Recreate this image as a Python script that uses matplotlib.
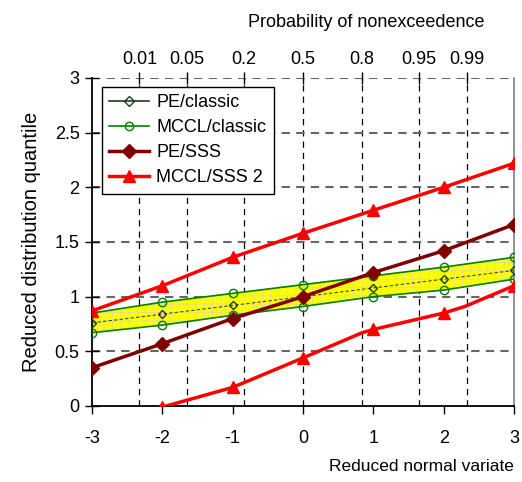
import matplotlib
matplotlib.use("Agg")
import matplotlib.pyplot as plt
from matplotlib.lines import Line2D
from statistics import NormalDist

plt.rcParams['font.family'] = ['Liberation Sans', 'DejaVu Sans']
plt.rcParams['hatch.linewidth'] = 0.6

# reduced normal variate
z = [-3, -2, -1, 0, 1, 2, 3]

# PE/classic estimate and MCCL/classic confidence band
pe_classic = [0.76, 0.84, 0.92, 1.00, 1.08, 1.16, 1.24]
mccl_classic_up = [0.85, 0.95, 1.03, 1.11, 1.19, 1.27, 1.36]
mccl_classic_lo = [0.67, 0.74, 0.83, 0.91, 1.00, 1.06, 1.16]

# PE/SSS estimate
pe_sss = [0.35, 0.57, 0.80, 1.00, 1.22, 1.42, 1.66]

# MCCL/SSS 2 bounds (lower one has a couple of extra vertices)
mccl_sss_up = [0.87, 1.10, 1.36, 1.58, 1.79, 2.00, 2.22]
z_low = [-3, -2, -1, 0, 0.84, 1, 2, 2.3, 3]
mccl_sss_lo = [-0.20, -0.01, 0.17, 0.44, 0.67, 0.70, 0.85, 0.91, 1.10]
low_markers = [0, 1, 2, 3, 5, 6, 8]

probs = [0.01, 0.05, 0.2, 0.5, 0.8, 0.95, 0.99]
prob_labels = ['0.01', '0.05', '0.2', '0.5', '0.8', '0.95', '0.99']
yticks = [0, 0.5, 1, 1.5, 2, 2.5, 3]

fig = plt.figure(figsize=(5.22, 4.82), dpi=100)
ax = fig.add_axes([92 / 522, 1 - 406 / 482, 422 / 522, 328 / 482])

ax.set_xlim(-3, 3)
ax.set_ylim(0, 3)

# grids
prob_z = [NormalDist().inv_cdf(p) for p in probs]
for pz in prob_z:
    ax.axvline(pz, color='black', lw=0.9, ls=(0, (5, 4)), zorder=1)
for yv in yticks[1:]:
    ax.axhline(yv, color='#666666', lw=1.5, ls=(0, (4, 3)), zorder=1)

# confidence band (classic)
ax.fill_between(z, mccl_classic_lo, mccl_classic_up, facecolor='#ffff00',
                edgecolor='#dede90', hatch='++', linewidth=0, zorder=2)
ax.plot(z, mccl_classic_up, color='#008000', lw=1.2, marker='o', ms=6,
        mfc='none', mec='#008000', zorder=3)
ax.plot(z, mccl_classic_lo, color='#008000', lw=1.2, marker='o', ms=6,
        mfc='none', mec='#008000', zorder=3)
ax.plot(z, pe_classic, color='#2f4f2f', lw=0.8, ls=(0, (3, 2)), marker='D', ms=4,
        mfc='none', mec='#1e3c1e', zorder=3)

# SSS results
ax.plot(z, pe_sss, color='#800000', lw=2.5, marker='D', ms=7, zorder=4)
ax.plot(z, mccl_sss_up, color='#ff0000', lw=2.5, marker='^', ms=9, zorder=4)
ax.plot(z_low, mccl_sss_lo, color='#ff0000', lw=2.5, marker='^', ms=9,
        markevery=low_markers, zorder=4)

ax.set_xticks(z)
ax.set_xticklabels([str(v) for v in z])
ax.set_yticks(yticks)
ax.set_yticklabels(['0', '0.5', '1', '1.5', '2', '2.5', '3'])
ax.tick_params(axis='x', direction='out', length=6, width=1, labelsize=13, pad=11)
ax.tick_params(axis='y', direction='inout', length=10, width=1, labelsize=13, pad=4)

ax.spines['top'].set_visible(False)
ax.spines['right'].set_color('#808080')
ax.spines['right'].set_linewidth(1.2)
ax.spines['left'].set_linewidth(1.3)
ax.spines['bottom'].set_linewidth(1.3)

ax.set_xlabel('Reduced normal variate', fontsize=12.5)
ax.xaxis.set_label_coords(1.0, -0.162)
ax.xaxis.label.set_ha('right')
ax.set_ylabel('Reduced distribution quantile', fontsize=14.5)
ax.yaxis.set_label_coords(-0.12, 0.5)

# top axis: probability of nonexceedence
ax2 = ax.twiny()
ax2.set_xlim(ax.get_xlim())
ax2.set_xticks(prob_z)
ax2.set_xticklabels(prob_labels)
ax2.tick_params(axis='x', direction='inout', length=8, width=1, labelsize=13, pad=3)
for s in ax2.spines.values():
    s.set_visible(False)
ax2.set_xlabel('Probability of nonexceedence', fontsize=13)
ax2.xaxis.set_label_coords(0.65, 1.154)

handles = [
    Line2D([], [], color='#1e3c1e', lw=1.2, marker='D', ms=5, mfc='none'),
    Line2D([], [], color='#008000', lw=1.2, marker='o', ms=6, mfc='none'),
    Line2D([], [], color='#800000', lw=2.5, marker='D', ms=7),
    Line2D([], [], color='#ff0000', lw=2.5, marker='^', ms=9),
]
leg = ax.legend(handles, ['PE/classic', 'MCCL/classic', 'PE/SSS', 'MCCL/SSS 2'],
                loc='upper left', bbox_to_anchor=(0.024, 0.973), borderaxespad=0,
                fontsize=13, fancybox=False, framealpha=1, edgecolor='black',
                handlelength=2.2, handletextpad=0.4, labelspacing=0.45,
                borderpad=0.4)
leg.get_frame().set_linewidth(1.0)
leg.set_zorder(10)

fig.savefig('out.png', dpi=100)
